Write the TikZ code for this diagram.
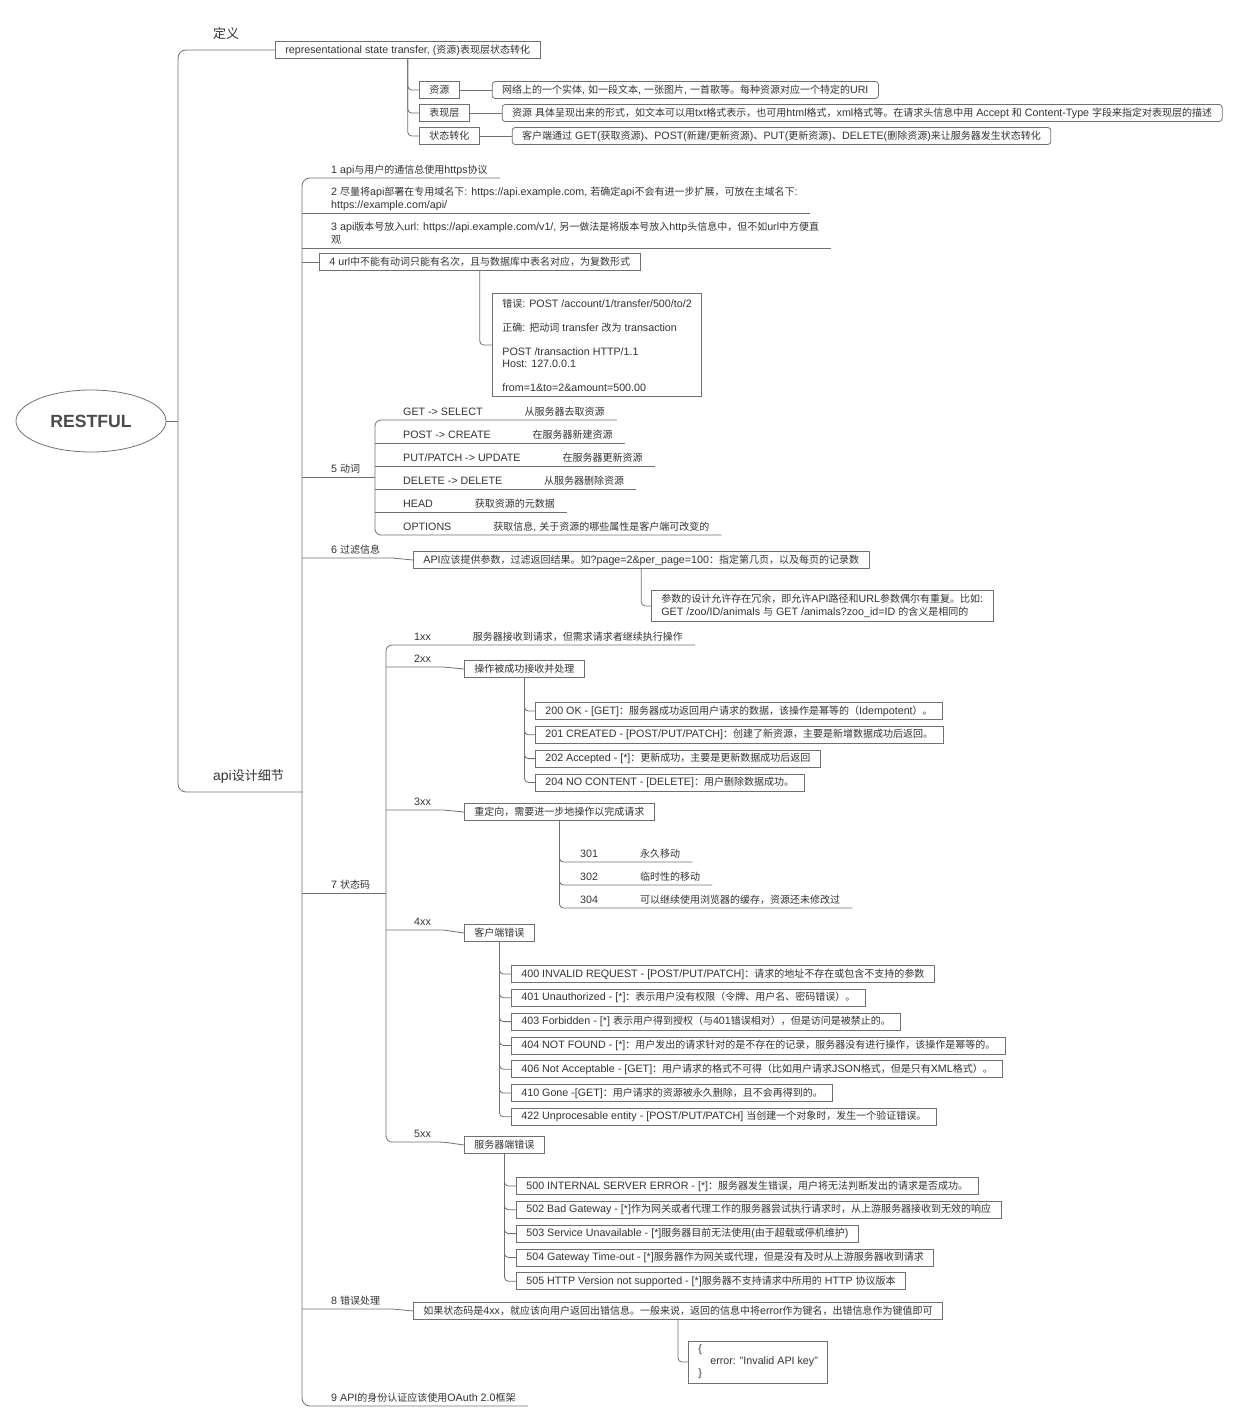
\documentclass[tikz,border=0pt]{standalone}
\usepackage{fontspec}
\setmainfont[Scale=1.07]{Liberation Sans}
\newfontfamily\cjkfont{Noto Sans CJK SC}
\usepackage{xcolor}
\usepackage{tikz}
\usetikzlibrary{positioning, shapes.geometric}

\definecolor{linegray}{HTML}{707070}
\definecolor{textgray}{HTML}{333333}
\definecolor{rootgray}{HTML}{4A4A4A}

% CJK characters switch to the CJK family
\newXeTeXintercharclass\cjkclass
\newcount\cjkcount
\def\cjkrange#1#2{\cjkcount=#1\relax
  \loop\XeTeXcharclass\cjkcount=\cjkclass\relax
  \ifnum\cjkcount<#2\relax\advance\cjkcount by 1\relax\repeat}
\cjkrange{"3000}{"303F}
\cjkrange{"4E00}{"9FFF}
\cjkrange{"FF00}{"FFEF}
\XeTeXinterchartoks 0 \cjkclass = {\begingroup\cjkfont}
\XeTeXinterchartoks 4095 \cjkclass = {\begingroup\cjkfont}
\XeTeXinterchartoks \cjkclass 0 = {\endgroup}
\XeTeXinterchartoks \cjkclass 4095 = {\endgroup}
\XeTeXinterchartokenstate=1

\begin{document}
\begin{tikzpicture}[x=1pt, y=-1pt,
    line/.style={draw=linegray, line width=0.8pt},
    box/.style={draw=linegray, line width=0.8pt, fill=white, text=textgray, anchor=west, inner xsep=10pt, inner ysep=0pt, minimum height=17pt, font=\fontsize{10}{13}\selectfont},
    descbox/.style={box, rounded corners=3pt},
    codebox/.style={box, align=left, inner ysep=5pt, font=\fontsize{10}{12}\selectfont},
    topic/.style={anchor=south west, inner xsep=12pt, inner ysep=4pt, text depth=0pt, text=textgray, align=left, font=\fontsize{10}{13}\selectfont},
    maintopic/.style={topic, inner ysep=11pt, font=\fontsize{13}{16}\selectfont},
    root/.style={ellipse, draw=linegray, line width=0.8pt, minimum width=150pt, minimum height=62pt, text=rootgray, font=\fontsize{16.5}{20}\selectfont\bfseries},
    stacked/.style={below=6pt of #1.south west, anchor=north west}
]
    \useasboundingbox (0,0) rectangle (1245,1423);

    \node[root] (restful) at (91,421) {RESTFUL};
    \coordinate (trunk) at (178,421);
    \coordinate (sub) at (302,792);

    % 定义
    \node[maintopic] (def) at (201,50) {定义};
    \node[box] (defbox) at (275,50) {representational state transfer, (资源)表现层状态转化};
    \node[box] (res) at (419,90) {资源};
    \node[box] (rep) at (419,113) {表现层};
    \node[box] (state) at (419,136) {状态转化};
    \node[descbox, right=32pt of res] (resdesc) {网络上的一个实体, 如一段文本, 一张图片, 一首歌等。每种资源对应一个特定的URI};
    \node[descbox, right=32pt of rep] (repdesc) {资源 具体呈现出来的形式，如文本可以用txt格式表示，也可用html格式，xml格式等。在请求头信息中用 Accept 和 Content-Type 字段来指定对表现层的描述};
    \node[descbox, right=32pt of state] (statedesc) {客户端通过 GET(获取资源)、POST(新建/更新资源)、PUT(更新资源)、DELETE(删除资源)来让服务器发生状态转化};

    % api设计细节
    \node[maintopic] (api) at (201,792) {api设计细节};
    \node[topic] (d1) at (319,178) {1 api与用户的通信总使用https协议};
    \node[topic] (d2) at (319,213) {2 尽量将api部署在专用域名下: https://api.example.com, 若确定api不会有进一步扩展，可放在主域名下:\\https://example.com/api/};
    \node[topic] (d3) at (319,248) {3 api版本号放入url: https://api.example.com/v1/, 另一做法是将版本号放入http头信息中，但不如url中方便直\\观};
    \node[box] (d4) at (319,262) {4 url中不能有动词只能有名次，且与数据库中表名对应，为复数形式};
    \node[codebox] (urlcode) at (492,345) {错误: POST /account/1/transfer/500/to/2\\[12pt]正确: 把动词 transfer 改为 transaction\\[12pt]POST /transaction HTTP/1.1\\Host: 127.0.0.1\\[12pt]from=1\&to=2\&amount=500.00};

    \node[topic] (d5) at (319,477) {5 动词};
    \coordinate (verbs) at (375,477);
    \node[topic] (vget) at (391,420) {GET -> SELECT\hspace{42pt}从服务器去取资源};
    \node[topic] (vpost) at (391,443) {POST -> CREATE\hspace{42pt}在服务器新建资源};
    \node[topic] (vput) at (391,466) {PUT/PATCH -> UPDATE\hspace{42pt}在服务器更新资源};
    \node[topic] (vdel) at (391,489) {DELETE -> DELETE\hspace{42pt}从服务器删除资源};
    \node[topic] (vhead) at (391,512) {HEAD\hspace{42pt}获取资源的元数据};
    \node[topic] (vopt) at (391,535) {OPTIONS\hspace{42pt}获取信息, 关于资源的哪些属性是客户端可改变的};

    \node[topic] (d6) at (319,558) {6 过滤信息};
    \node[box] (filter) at (413,560) {API应该提供参数，过滤返回结果。如?page=2\&per\_page=100：指定第几页，以及每页的记录数};
    \node[box, align=left, inner ysep=4pt] (filternote) at (651,606) {参数的设计允许存在冗余，即允许API路径和URL参数偶尔有重复。比如:\\GET /zoo/ID/animals 与 GET /animals?zoo\_id=ID 的含义是相同的};

    \node[topic] (d7) at (319,893) {7 状态码};
    \coordinate (status) at (386,893);
    \node[topic] (s1) at (402,645) {1xx\hspace{42pt}服务器接收到请求，但需求请求者继续执行操作};

    \node[topic] (s2) at (402,667) {2xx};
    \node[box] (success) at (464,669) {操作被成功接收并处理};
    \node[box] (c200) at (535,711) {200 OK - [GET]：服务器成功返回用户请求的数据，该操作是幂等的（Idempotent）。};
    \node[box, stacked=c200] (c201) {201 CREATED - [POST/PUT/PATCH]：创建了新资源，主要是新增数据成功后返回。};
    \node[box, stacked=c201] (c202) {202 Accepted - [*]：更新成功，主要是更新数据成功后返回};
    \node[box, stacked=c202] (c204) {204 NO CONTENT - [DELETE]：用户删除数据成功。};

    \node[topic] (s3) at (402,810) {3xx};
    \node[box] (redirect) at (464,812) {重定向，需要进一步地操作以完成请求};
    \node[topic] (c301) at (568,862) {301\hspace{42pt}永久移动};
    \node[topic] (c302) at (568,885) {302\hspace{42pt}临时性的移动};
    \node[topic] (c304) at (568,908) {304\hspace{42pt}可以继续使用浏览器的缓存，资源还未修改过};

    \node[topic] (s4) at (402,930) {4xx};
    \node[box] (client) at (464,933) {客户端错误};
    \node[box] (c400) at (511,974) {400 INVALID REQUEST - [POST/PUT/PATCH]：请求的地址不存在或包含不支持的参数};
    \node[box, stacked=c400] (c401) {401 Unauthorized - [*]：表示用户没有权限（令牌、用户名、密码错误）。};
    \node[box, stacked=c401] (c403) {403 Forbidden - [*] 表示用户得到授权（与401错误相对），但是访问是被禁止的。};
    \node[box, stacked=c403] (c404) {404 NOT FOUND - [*]：用户发出的请求针对的是不存在的记录，服务器没有进行操作，该操作是幂等的。};
    \node[box, stacked=c404] (c406) {406 Not Acceptable - [GET]：用户请求的格式不可得（比如用户请求JSON格式，但是只有XML格式）。};
    \node[box, stacked=c406] (c410) {410 Gone -[GET]：用户请求的资源被永久删除，且不会再得到的。};
    \node[box, stacked=c410] (c422) {422 Unprocesable entity - [POST/PUT/PATCH] 当创建一个对象时，发生一个验证错误。};

    \node[topic] (s5) at (402,1142) {5xx};
    \node[box] (server) at (464,1145) {服务器端错误};
    \node[box] (c500) at (516,1186) {500 INTERNAL SERVER ERROR - [*]：服务器发生错误，用户将无法判断发出的请求是否成功。};
    \node[box, stacked=c500] (c502) {502 Bad Gateway - [*]作为网关或者代理工作的服务器尝试执行请求时，从上游服务器接收到无效的响应};
    \node[box, stacked=c502] (c503) {503 Service Unavailable - [*]服务器目前无法使用(由于超载或停机维护)};
    \node[box, stacked=c503] (c504) {504 Gateway Time-out - [*]服务器作为网关或代理，但是没有及时从上游服务器收到请求};
    \node[box, stacked=c504] (c505) {505 HTTP Version not supported - [*]服务器不支持请求中所用的 HTTP 协议版本};

    \node[topic] (d8) at (319,1309) {8 错误处理};
    \node[box] (errmsg) at (413,1311) {如果状态码是4xx，就应该向用户返回出错信息。一般来说，返回的信息中将error作为键名，出错信息作为键值即可};
    \node[codebox, inner ysep=4pt] (errjson) at (688,1362) {\{\\\hspace*{12pt}error: "Invalid API key"\\\}};

    \node[topic] (d9) at (319,1406) {9 API的身份认证应该使用OAuth 2.0框架};

    % connectors
    \draw[line] (restful) -- (trunk);
    \draw[line, rounded corners=8pt] (defbox.west) -- (trunk |- defbox.west) -- (trunk |- sub) -- (sub);
    \draw[line, rounded corners=4pt] (defbox.south) |- (res.west);
    \draw[line, rounded corners=4pt] (defbox.south) |- (rep.west);
    \draw[line, rounded corners=4pt] (defbox.south) |- (state.west);
    \draw[line] (res) -- (resdesc);
    \draw[line] (rep) -- (repdesc);
    \draw[line] (state) -- (statedesc);

    \draw[line, rounded corners=8pt] (d1.south east) -- (sub |- d1.south) -- (sub |- d9.south) -- (d9.south east);
    \draw[line] (sub |- d2.south) -- (d2.south east);
    \draw[line] (sub |- d3.south) -- (d3.south east);
    \draw[line] (sub |- d4.west) -- (d4.west);
    \draw[line, rounded corners=4pt] (d4.south) |- (urlcode.west);

    \draw[line] (sub |- d5.south) -- (verbs);
    \draw[line, rounded corners=6pt] (vget.south east) -- (verbs |- vget.south) -- (verbs |- vopt.south) -- (vopt.south east);
    \draw[line] (verbs |- vpost.south) -- (vpost.south east);
    \draw[line] (verbs |- vput.south) -- (vput.south east);
    \draw[line] (verbs |- vdel.south) -- (vdel.south east);
    \draw[line] (verbs |- vhead.south) -- (vhead.south east);

    \draw[line] (sub |- d6.south) -- (d6.south east) -- (filter.west);
    \draw[line, rounded corners=4pt] (filter.south) |- (filternote.west);

    \draw[line] (sub |- d7.south) -- (status);
    \draw[line, rounded corners=6pt] (s1.south east) -- (status |- s1.south) -- (status |- s5.south) -- (s5.south east) -- (server.west);
    \draw[line] (status |- s2.south) -- (s2.south east) -- (success.west);
    \draw[line] (status |- s3.south) -- (s3.south east) -- (redirect.west);
    \draw[line] (status |- s4.south) -- (s4.south east) -- (client.west);

    \draw[line, rounded corners=4pt] (success.south) |- (c200.west);
    \draw[line, rounded corners=4pt] (success.south) |- (c201.west);
    \draw[line, rounded corners=4pt] (success.south) |- (c202.west);
    \draw[line, rounded corners=4pt] (success.south) |- (c204.west);

    \draw[line, rounded corners=4pt] (redirect.south) |- (c301.south east);
    \draw[line, rounded corners=4pt] (redirect.south) |- (c302.south east);
    \draw[line, rounded corners=4pt] (redirect.south) |- (c304.south east);

    \draw[line, rounded corners=4pt] (client.south) |- (c400.west);
    \draw[line, rounded corners=4pt] (client.south) |- (c401.west);
    \draw[line, rounded corners=4pt] (client.south) |- (c403.west);
    \draw[line, rounded corners=4pt] (client.south) |- (c404.west);
    \draw[line, rounded corners=4pt] (client.south) |- (c406.west);
    \draw[line, rounded corners=4pt] (client.south) |- (c410.west);
    \draw[line, rounded corners=4pt] (client.south) |- (c422.west);

    \draw[line, rounded corners=4pt] (server.south) |- (c500.west);
    \draw[line, rounded corners=4pt] (server.south) |- (c502.west);
    \draw[line, rounded corners=4pt] (server.south) |- (c503.west);
    \draw[line, rounded corners=4pt] (server.south) |- (c504.west);
    \draw[line, rounded corners=4pt] (server.south) |- (c505.west);

    \draw[line] (sub |- d8.south) -- (d8.south east) -- (errmsg.west);
    \draw[line, rounded corners=4pt] (errmsg.south) |- (errjson.west);
\end{tikzpicture}
\end{document}
